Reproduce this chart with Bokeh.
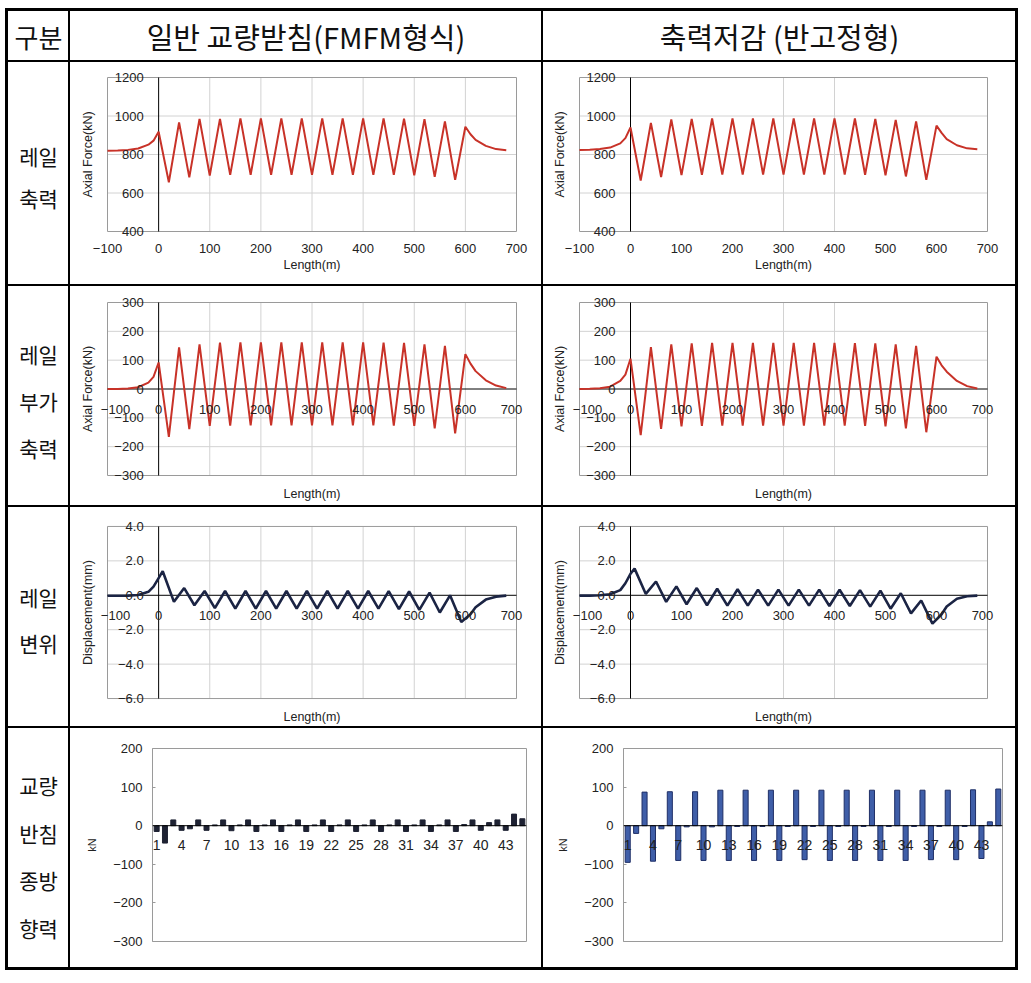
from bokeh.plotting import figure
from bokeh.models import Range1d, Span, FixedTicker, ColumnDataSource, LabelSet, Spacer
from bokeh.layouts import row, column
from bokeh.embed import file_html
from bokeh.resources import INLINE
from bokeh.core.properties import value

KR = "Noto Sans CJK KR"
NUM = "Liberation Sans"

# ---------------- texts ----------------
HEADERS = ["구분", "일반 교량받침(FMFM형식)", "축력저감 (반고정형)"]
ROW_LABELS = [["레일", "축력"], ["레일", "부가", "축력"], ["레일", "변위"], ["교량", "반침", "종방", "향력"]]

# ---------------- axes ----------------
X_TICKS = [-100, 0, 100, 200, 300, 400, 500, 600, 700]
X_LABELS = ["−100", "0", "100", "200", "300", "400", "500", "600", "700"]
AF_TICKS = [400, 600, 800, 1000, 1200]
AF_LABELS = ["400", "600", "800", "1000", "1200"]
ADD_TICKS = [-300, -200, -100, 0, 100, 200, 300]
ADD_LABELS = ["−300", "−200", "−100", "0", "100", "200", "300"]
DISP_TICKS = [-6, -4, -2, 0, 2, 4]
DISP_LABELS = ["−6.0", "−4.0", "−2.0", "0.0", "2.0", "4.0"]
BAR_TICKS = [-300, -200, -100, 0, 100, 200]
BAR_LABELS = ["−300", "−200", "−100", "0", "100", "200"]
BEARING_TICKS = [1, 4, 7, 10, 13, 16, 19, 22, 25, 28, 31, 34, 37, 40, 43]
BEARING_LABELS = ["1", "4", "7", "10", "13", "16", "19", "22", "25", "28", "31", "34", "37", "40", "43"]

# ---------------- data ----------------
X_AF = [-100, -80, -60, -40, -20, -10, 0, 20, 40, 60, 80, 100, 120, 140, 160, 180, 200, 220, 240, 260,
        280, 300, 320, 340, 360, 380, 400, 420, 440, 460, 480, 500, 520, 540, 560, 580, 600, 610, 620,
        640, 660, 680]
AF_FMFM = [820, 821, 824, 831, 851, 872, 918, 656, 967, 681, 985, 691, 985, 694, 988, 695, 988, 695, 988, 695,
           988, 695, 988, 695, 988, 695, 988, 695, 988, 694, 986, 692, 984, 684, 972, 668, 944, 905, 876,
           845, 828, 822]
AF_SEMI = [824, 825, 828, 836, 858, 885, 940, 665, 964, 683, 982, 693, 985, 695, 987, 696, 988, 696, 988, 696,
           988, 696, 988, 696, 988, 696, 988, 696, 987, 695, 985, 692, 980, 686, 972, 668, 950, 912, 880,
           848, 832, 827]
ADD_FMFM = [0, 0, 2, 6, 22, 42, 92, -166, 144, -139, 155, -128, 161, -127, 162, -126, 162, -126, 162, -126,
            162, -126, 162, -126, 162, -126, 162, -126, 161, -127, 160, -128, 155, -137, 150, -154, 121, 88, 62,
            30, 12, 3]
ADD_SEMI = [0, 1, 3, 8, 28, 50, 105, -160, 145, -138, 155, -130, 158, -128, 160, -127, 160, -127, 160, -127,
            160, -127, 160, -127, 160, -127, 160, -127, 159, -128, 158, -130, 155, -137, 150, -150, 112, 82, 60,
            28, 10, 2]

X_DISP = [-100, -80, -60, -40, -20, -10, 0, 8, 30, 50, 70, 90, 110, 130, 150, 170, 190, 210, 230, 250, 270,
          290, 310, 330, 350, 370, 390, 410, 430, 450, 470, 490, 510, 530, 550, 570, 592, 610, 620, 640,
          660, 680]
DISP_FMFM = [-0.03, -0.03, -0.02, 0.02, 0.2, 0.5, 1.0, 1.4, -0.38, 0.42, -0.58, 0.25, -0.75, 0.25, -0.78, 0.25,
             -0.78, 0.25, -0.78, 0.25, -0.78, 0.25, -0.78, 0.25, -0.78, 0.25, -0.78, 0.25, -0.78, 0.24, -0.8,
             0.22, -0.85, 0.15, -1.0, 0.0, -1.55, -1.1, -0.7, -0.25, -0.08, -0.02]
DISP_SEMI = [-0.02, -0.02, 0.0, 0.06, 0.3, 0.7, 1.25, 1.55, 0.08, 0.8, -0.38, 0.52, -0.52, 0.42, -0.58, 0.38,
             -0.6, 0.35, -0.6, 0.33, -0.6, 0.33, -0.6, 0.33, -0.6, 0.33, -0.62, 0.32, -0.62, 0.3, -0.66,
             0.27, -0.78, 0.12, -1.05, -0.3, -1.65, -1.1, -0.65, -0.2, -0.06, -0.02]

BEARING_NO = list(range(1, 46))
BEAR_FMFM = [-15, -45, 15, -12, -8, 15, -12, 2, 15, -13, 2, 15, -15, 2, 15, -15, 2, 15, -15, 2, 15, -15, 2,
             15, -15, 2, 15, -15, 2, 15, -15, 2, 15, -15, 2, 15, -15, 3, 15, -12, 8, 15, -12, 30, 18]
BEAR_SEMI = [-95, -20, 87, -92, -8, 88, -90, -3, 88, -90, -3, 92, -90, -2, 92, -90, -2, 92, -90, -2, 92, -88,
             -2, 92, -90, -2, 92, -90, -2, 92, -90, -2, 92, -90, -2, 92, -88, -2, 92, -88, -2, 93, -85, 10, 95]

# ---------------- geometry (pixels inside each table cell) ----------------
W0, W1, W2 = 60, 471, 472
H0, H1, H2, H3, H4 = 49, 222, 219, 219, 239
PAD = 8  # extra frame room around each drawn plot box so edge labels are not clipped

RED = "#c83228"
NAVY = "#1b2444"
GRID = "#d2d2d2"
FRAME = "#9a9a9a"
TXT = "#222222"
WHITE_BG = {"background-color": "white"}


def text_cell(w, h, lines, size, gap, center, ft=0, fb=None):
    if fb is None:
        fb = h
    p = figure(width=w, height=h, x_range=Range1d(0, w), y_range=Range1d(fb, ft),
               x_axis_location=None, y_axis_location=None,
               min_border_left=0, min_border_right=0, min_border_top=ft, min_border_bottom=h - fb,
               output_backend="svg", toolbar_location=None, styles=WHITE_BG)
    p.grid.visible = False
    p.outline_line_color = None
    p.background_fill_color = "white"
    p.border_fill_color = "white"
    n = len(lines)
    ys = [center + (i - (n - 1) / 2) * gap for i in range(n)]
    p.text(x=[w / 2] * n, y=ys, text=lines, text_align="center", text_baseline="middle",
           text_font=value(KR), text_font_size=size, text_color="#111111")
    return p


def labelset(p, xs, ys, texts, xo, yo, align, size):
    src = ColumnDataSource(dict(x=xs, y=ys, t=texts))
    p.add_layout(LabelSet(x="x", y="y", text="t", source=src, x_offset=xo, y_offset=yo,
                          text_align=align, text_baseline="middle", text_font=value(NUM),
                          text_font_size=value(size), text_color=TXT))


def axis_label_style(ax, size):
    ax.axis_label_text_font = NUM
    ax.axis_label_text_font_style = "normal"
    ax.axis_label_text_font_size = size
    ax.axis_label_text_color = TXT


def line_chart(w, h, box, yticks, ylabels, ylab, xs, ys, color, lw, vgrid, mid_xlabels):
    bl, bt, br, bb = box
    xmin, xmax = X_TICKS[0], X_TICKS[-1]
    ymin, ymax = yticks[0], yticks[-1]
    ux = (xmax - xmin) / (br - bl)
    uy = (ymax - ymin) / (bb - bt)
    p = figure(width=w, height=h,
               x_range=Range1d(xmin - PAD * ux, xmax + PAD * ux),
               y_range=Range1d(ymin - PAD * uy, ymax + PAD * uy),
               min_border_left=bl - PAD, min_border_top=bt - PAD,
               min_border_right=w - br - PAD, min_border_bottom=h - bb - PAD,
               output_backend="svg", toolbar_location=None, styles=WHITE_BG)
    p.outline_line_color = None
    p.grid.visible = False
    p.background_fill_color = "white"
    p.border_fill_color = "white"
    # left axis: title only
    p.yaxis.ticker = FixedTicker(ticks=[])
    p.yaxis.axis_line_color = None
    p.yaxis.major_tick_out = 0
    p.yaxis.major_label_standoff = 0
    p.yaxis.axis_label = ylab
    axis_label_style(p.yaxis, "12.5px")
    p.yaxis.axis_label_standoff = 5
    # bottom axis
    p.xaxis.axis_line_color = None
    p.xaxis.major_tick_out = 0
    p.xaxis.major_tick_in = 0
    p.xaxis.axis_label = "Length(m)"
    axis_label_style(p.xaxis, "12.5px")
    if mid_xlabels:
        p.xaxis.ticker = FixedTicker(ticks=[])
        p.xaxis.major_label_standoff = 0
        p.xaxis.axis_label_standoff = 3
    else:
        p.xaxis.ticker = FixedTicker(ticks=X_TICKS)
        p.xaxis.major_label_overrides = {t: l for t, l in zip(X_TICKS, X_LABELS)}
        p.xaxis.major_label_text_font = NUM
        p.xaxis.major_label_text_font_size = "13px"
        p.xaxis.major_label_text_color = TXT
        p.xaxis.major_label_standoff = 4
        p.xaxis.axis_label_standoff = 2
    # grid lines inside the plot box
    hg = [t for t in yticks if ymin < t < ymax and t != 0]
    p.segment(x0=vgrid, y0=[ymin] * len(vgrid), x1=vgrid, y1=[ymax] * len(vgrid),
              line_color=GRID, line_width=1)
    p.segment(x0=[xmin] * len(hg), y0=hg, x1=[xmax] * len(hg), y1=hg, line_color=GRID, line_width=1)
    # box
    p.quad(left=[xmin], right=[xmax], bottom=[ymin], top=[ymax], fill_color=None,
           line_color=FRAME, line_width=1)
    # axes through zero
    p.segment(x0=[0], y0=[ymin], x1=[0], y1=[ymax], line_color="black", line_width=1)
    if ymin < 0 < ymax:
        p.segment(x0=[xmin], y0=[0], x1=[xmax], y1=[0], line_color="black", line_width=1)
    p.line(xs, ys, line_color=color, line_width=lw)
    labelset(p, [0] * len(yticks), yticks, ylabels, -15, 0, "right", "13px")
    if mid_xlabels:
        labelset(p, X_TICKS[1:-1], [0] * (len(X_TICKS) - 2), X_LABELS[1:-1], 0, -20, "center", "13px")
        labelset(p, X_TICKS[:1], [0], X_LABELS[:1], 8, -20, "center", "13px")
        labelset(p, X_TICKS[-1:], [0], X_LABELS[-1:], -5, -20, "center", "13px")
    return p


def bar_chart(w, h, fl, ft, fr, fb, vals, fill, line):
    p = figure(width=w, height=h, x_range=Range1d(0.5, 45.5), y_range=Range1d(-300, 200),
               min_border_left=fl, min_border_top=ft, min_border_right=w - fr, min_border_bottom=h - fb,
               output_backend="svg", toolbar_location=None, styles=WHITE_BG)
    p.outline_line_color = FRAME
    p.background_fill_color = "white"
    p.border_fill_color = "white"
    p.grid.visible = False
    p.xaxis.visible = False
    p.yaxis.ticker = FixedTicker(ticks=BAR_TICKS)
    p.yaxis.major_label_overrides = {t: l for t, l in zip(BAR_TICKS, BAR_LABELS)}
    p.yaxis.axis_line_color = None
    p.yaxis.major_tick_out = 0
    p.yaxis.major_tick_in = 3
    p.yaxis.major_tick_line_color = FRAME
    p.yaxis.major_label_text_font = NUM
    p.yaxis.major_label_text_font_size = "13px"
    p.yaxis.major_label_text_color = TXT
    p.yaxis.major_label_standoff = 10
    p.yaxis.axis_label = "kN"
    axis_label_style(p.yaxis, "11px")
    p.yaxis.axis_label_standoff = 12
    p.vbar(x=BEARING_NO, top=vals, width=0.6, fill_color=fill, line_color=line, line_width=1)
    p.add_layout(Span(location=0, dimension="width", line_color="black", line_width=1))
    labelset(p, BEARING_TICKS, [0] * len(BEARING_TICKS), BEARING_LABELS, 0, -19, "center", "14px")
    return p


def trow(*cells):
    return row(*cells, spacing=2, styles={"background-color": "black"})


BOX_L1, BOX_R1 = 37, 446
BOX_L2, BOX_R2 = 36, 444

hdr = trow(text_cell(W0, H0, [HEADERS[0]], "26px", 0, H0 / 2),
           text_cell(W1, H0, [HEADERS[1]], "29px", 0, H0 / 2),
           text_cell(W2, H0, [HEADERS[2]], "29px", 0, H0 / 2))

b1 = (15, 169)
r1 = trow(text_cell(W0, H1, ROW_LABELS[0], "21px", 42, 114, b1[0] - PAD, b1[1] + PAD),
          line_chart(W1, H1, (BOX_L1, b1[0], BOX_R1, b1[1]), AF_TICKS, AF_LABELS, "Axial Force(kN)",
                     X_AF, AF_FMFM, RED, 2, [100, 200, 300, 400, 500, 600], False),
          line_chart(W2, H1, (BOX_L2, b1[0], BOX_R2, b1[1]), AF_TICKS, AF_LABELS, "Axial Force(kN)",
                     X_AF, AF_SEMI, RED, 2, [300, 400], False))

b2 = (16, 189)
r2 = trow(text_cell(W0, H2, ROW_LABELS[1], "21px", 47, 114, b2[0] - PAD, b2[1] + PAD),
          line_chart(W1, H2, (BOX_L1, b2[0], BOX_R1, b2[1]), ADD_TICKS, ADD_LABELS, "Axial Force(kN)",
                     X_AF, ADD_FMFM, RED, 2, [100, 200, 300, 400, 500, 600], True),
          line_chart(W2, H2, (BOX_L2, b2[0], BOX_R2, b2[1]), ADD_TICKS, ADD_LABELS, "Axial Force(kN)",
                     X_AF, ADD_SEMI, RED, 2, [300, 400], True))

b3 = (19, 192)
r3 = trow(text_cell(W0, H3, ROW_LABELS[2], "21px", 46, 113, b3[0] - PAD, b3[1] + PAD),
          line_chart(W1, H3, (BOX_L1, b3[0], BOX_R1, b3[1]), DISP_TICKS, DISP_LABELS, "Displacement(mm)",
                     X_DISP, DISP_FMFM, NAVY, 2.6, [100, 200, 300, 400, 500, 600], True),
          line_chart(W2, H3, (BOX_L2, b3[0], BOX_R2, b3[1]), DISP_TICKS, DISP_LABELS, "Displacement(mm)",
                     X_DISP, DISP_SEMI, NAVY, 2.6, [300, 400], True))

b4 = (20, 213)
r4 = trow(text_cell(W0, H4, ROW_LABELS[3], "21px", 47.5, 128, b4[0], b4[1]),
          bar_chart(W1, H4, 82, b4[0], 456, b4[1], BEAR_FMFM, "#1e2233", "#1e2233"),
          bar_chart(W2, H4, 80, b4[0], 459, b4[1], BEAR_SEMI, "#3f5ea8", "#1f2f66"))

table = column(hdr, r1, r2, r3, r4, spacing=2,
               styles={"background-color": "black", "padding": "3px"})

page = column(Spacer(width=10, height=8), row(Spacer(width=5, height=10), table))

open("out.html", "w").write(file_html(page, INLINE))
